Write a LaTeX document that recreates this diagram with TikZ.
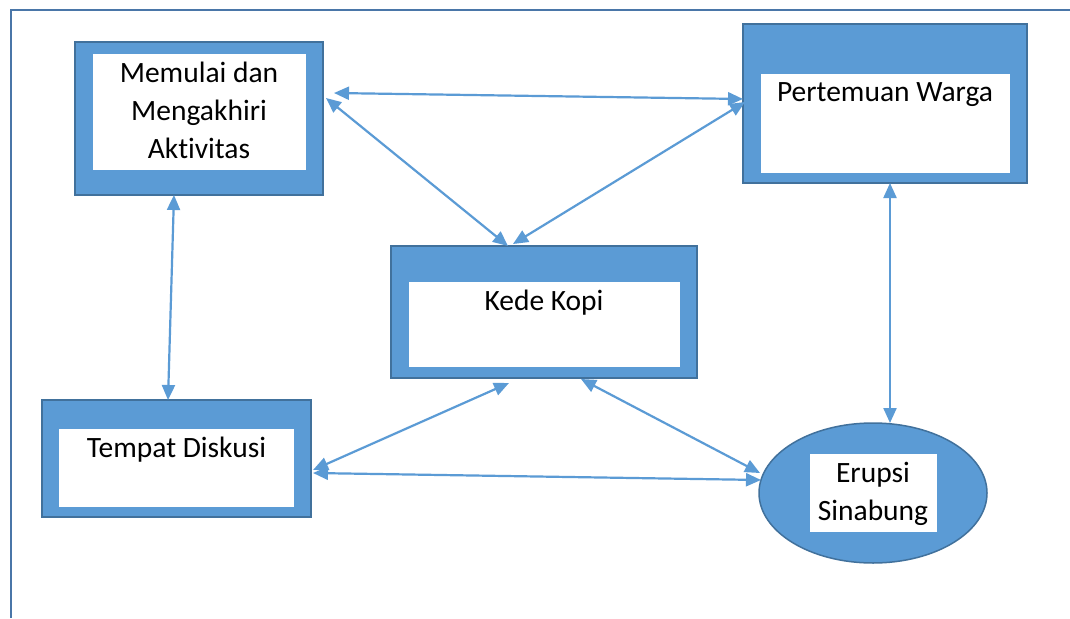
\documentclass[tikz,border=0pt]{standalone}
\usepackage{fontspec}
\setmainfont{Carlito}[Ligatures=NoCommon]
\usetikzlibrary{arrows.meta,shapes.geometric}
\definecolor{boxblue}{HTML}{5B9BD5}
\definecolor{boxedge}{HTML}{41719C}
\definecolor{framec}{HTML}{4A76A8}
\tikzset{
  outerbox/.style={rectangle,fill=boxblue,draw=boxedge,line width=1.5pt,inner sep=0pt,outer sep=0pt},
  innerbox/.style={rectangle,fill=white,inner sep=0pt,outer sep=0pt},
  label/.style={font=\fontsize{29.5}{38}\selectfont,align=center,anchor=base,inner sep=0pt},
  conn/.style={draw=boxblue,line width=2.2pt,{Triangle[length=15pt,width=13pt]}-{Triangle[length=15pt,width=13pt]}}
}
\begin{document}
\begin{tikzpicture}[x=1pt,y=-1pt]
\useasboundingbox (0,0) rectangle (1070,618);
\fill[white] (0,0) rectangle (1070,618);
% frame
\draw[framec,line width=1.6pt] (11,618) -- (11,10) -- (1070,10);
% outer shapes
\node[outerbox,minimum width=248pt,minimum height=153pt] (m) at (199,118.5) {};
\node[outerbox,minimum width=284pt,minimum height=159pt] (p) at (885,103.5) {};
\node[outerbox,minimum width=306pt,minimum height=132pt] (k) at (544,312) {};
\node[outerbox,minimum width=269pt,minimum height=117pt] (t) at (176.5,458.5) {};
\node[ellipse,fill=boxblue,draw=boxedge,line width=1.5pt,inner sep=0pt,outer sep=0pt,minimum width=228pt,minimum height=140pt] (e) at (873,493) {};
% inner white areas
\node[innerbox,minimum width=213pt,minimum height=116pt] (mi) at (199.5,112) {};
\node[innerbox,minimum width=249pt,minimum height=99pt] (pi) at (885.5,123.5) {};
\node[innerbox,minimum width=271pt,minimum height=85pt] (ki) at (544.5,324.5) {};
\node[innerbox,minimum width=235pt,minimum height=78pt] (ti) at (176.5,468) {};
\node[innerbox,minimum width=127pt,minimum height=78pt] (ei) at (873.5,493) {};
% labels (base = baseline of last line)
\node[label] (ml) at (199,158) {Memulai dan\\Mengakhiri\\Aktivitas};
\node[label] (pl) at (885,101) {Pertemuan Warga};
\node[label] (kl) at (544,310) {Kede Kopi};
\node[label] (tl) at (176.5,457) {Tempat Diskusi};
\node[label] (el) at (873,520) {Erupsi\\Sinabung};
% connectors
\draw[conn] ([shift={(11,51)}]m.north east) -- ([shift={(0,75)}]p.north west);
\draw[conn] ([shift={(3,56)}]m.north east) -- ([shift={(117,0)}]k.north west);
\draw[conn] ([shift={(2,78)}]p.north west) -- ([shift={(122,-2)}]k.north west);
\draw[conn] ([shift={(99,0)}]m.south west) -- ([shift={(126,0)}]t.north west);
\draw[conn] ([shift={(147,0)}]p.south west) -- ([shift={(17,0)}]e.north);
\draw[conn] ([shift={(118,5)}]k.south west) -- ([shift={(2,70)}]t.north east);
\draw[conn] ([shift={(190,1)}]k.south west) -- ([shift={(1,-20)}]e.west);
\draw[conn] ([shift={(2,73)}]t.north east) -- ([shift={(2,-13)}]e.west);
\end{tikzpicture}
\end{document}
